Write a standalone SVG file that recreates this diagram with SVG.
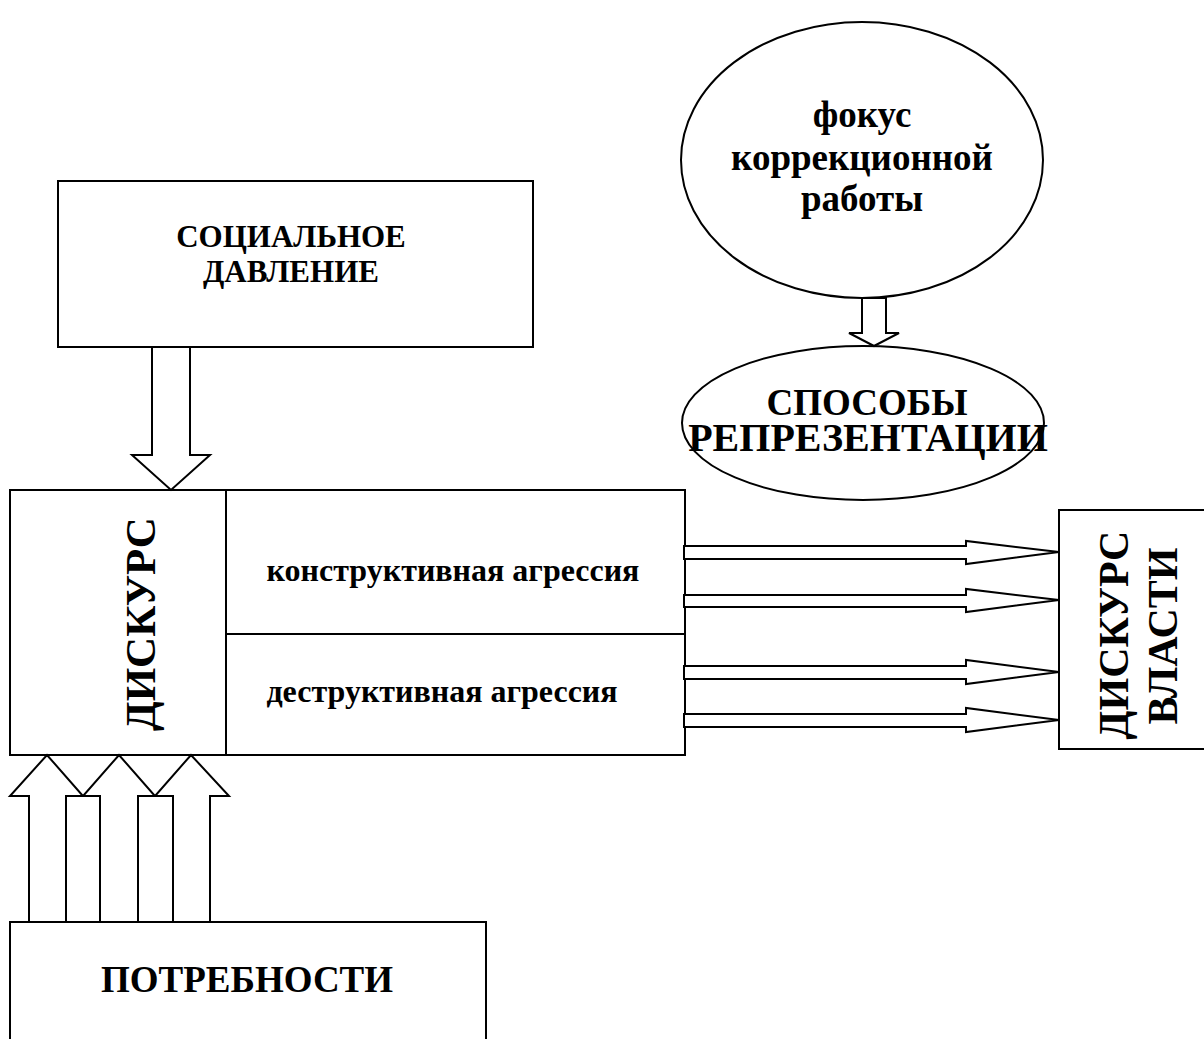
<svg xmlns="http://www.w3.org/2000/svg" width="1204" height="1039" viewBox="0 0 1204 1039">
<style>
.s{fill:#fff;stroke:#000;stroke-width:2}
.a{fill:#fff;stroke:#000;stroke-width:2;stroke-linejoin:miter}
.t{font-family:"Liberation Serif","Times New Roman",serif;font-weight:bold;fill:#000;text-anchor:middle}
</style>
<rect width="1204" height="1039" fill="#fff"/>
<g id="social">
<rect class="s" x="58" y="181" width="475" height="166"/>
<text class="t" font-size="31" x="291" y="247">СОЦИАЛЬНОЕ</text>
<text class="t" font-size="31" x="291" y="282">ДАВЛЕНИЕ</text>
</g>
<g id="focus">
<ellipse class="s" cx="862" cy="160" rx="181" ry="138"/>
<text class="t" font-size="37" x="862" y="127">фокус</text>
<text class="t" font-size="37" x="862" y="170">коррекционной</text>
<text class="t" font-size="37" x="862" y="211">работы</text>
</g>
<g id="sposoby">
<ellipse class="s" cx="863" cy="423" rx="181" ry="77"/>
<text class="t" font-size="37" x="867" y="415">СПОСОБЫ</text>
<text class="t" font-size="40" x="868" y="451">РЕПРЕЗЕНТАЦИИ</text>
</g>
<g id="diskurs">
<rect class="s" x="10" y="490" width="216" height="265"/>
<text class="t" font-size="43" transform="translate(155,624) rotate(-90)">ДИСКУРС</text>
</g>
<g id="aggression">
<rect class="s" x="226" y="490" width="459" height="265"/>
<line class="s" x1="226" y1="634" x2="685" y2="634"/>
<text class="t" font-size="32" x="453" y="581">конструктивная агрессия</text>
<text class="t" font-size="32" x="442" y="702">деструктивная агрессия</text>
</g>
<g id="vlast">
<rect class="s" x="1059" y="510" width="160" height="239"/>
<text class="t" font-size="42" transform="translate(1128,635) rotate(-90)">ДИСКУРС</text>
<text class="t" font-size="42" transform="translate(1177,636) rotate(-90)">ВЛАСТИ</text>
</g>
<g id="needs">
<rect class="s" x="10" y="922" width="476" height="130"/>
<text class="t" font-size="37" x="247" y="992">ПОТРЕБНОСТИ</text>
</g>
<g id="connectors">
<polygon class="a" points="152,347 190,347 190,455 210,455 171,490 132,455 152,455"/>
<polygon class="a" points="862,298 886,298 886,333 899,333 874,346 849,333 862,333"/>
<polygon class="a" points="29,922 29,796 10,796 47,755 83,796 66,796 66,922"/>
<polygon class="a" points="100,922 100,796 83,796 119,755 155,796 138,796 138,922"/>
<polygon class="a" points="173,922 173,796 155,796 191,755 229,796 210,796 210,922"/>
<polygon class="a" points="684,546 966,546 966,541 1059,552 966,564 966,559 684,559"/>
<polygon class="a" points="684,595 966,595 966,589 1059,600 966,612 966,607 684,607"/>
<polygon class="a" points="684,666 966,666 966,660 1059,672 966,684 966,679 684,679"/>
<polygon class="a" points="684,714 966,714 966,708 1059,720 966,732 966,727 684,727"/>
</g>
</svg>
